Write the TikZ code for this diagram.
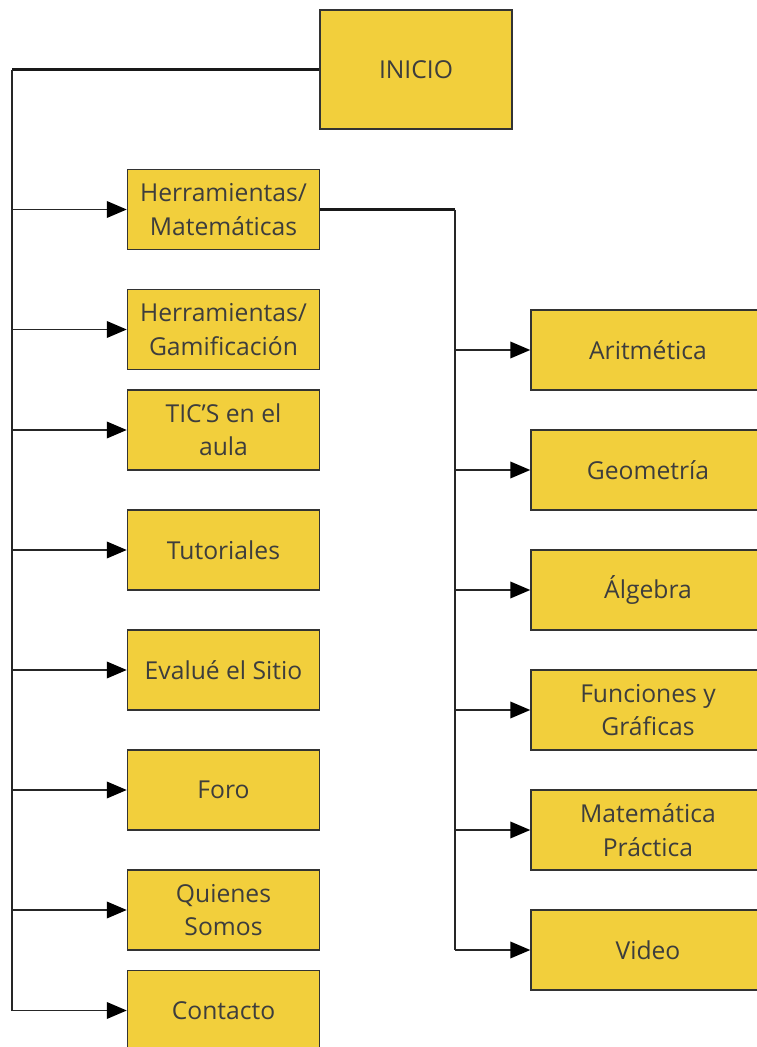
\documentclass[tikz,border=0pt]{standalone}
\usepackage{fontspec}
\setmainfont{Open Sans}
\usetikzlibrary{arrows.meta}

\definecolor{menuyellow}{HTML}{F2CF3C}
\definecolor{menutext}{HTML}{3D3D3D}

\begin{document}
\begin{tikzpicture}[x=0.75pt,y=-0.75pt]

\useasboundingbox (0,0) rectangle (757,1047);
\clip (0,0) rectangle (757,1047);

\tikzset{MenuBox/.style={shape=rectangle, draw=black!80, line width=1.1pt,
        fill=menuyellow, text=menutext, align=center, inner sep=0pt,
        font=\fontsize{18.5}{25}\selectfont,
        minimum width=144pt, minimum height=60pt}}
\tikzset{SubBox/.style={MenuBox, minimum width=175.5pt}}

\begin{scope}
    % Top node
    \node (inicio) at (416,69.5) [MenuBox, minimum height=89.25pt] {INICIO};

    % Left column - main menu
    \node (hmat) at (223.5,209.5) [MenuBox] {Herramientas/\\Matemáticas};
    \node (hgam) at (223.5,329.5) [MenuBox] {Herramientas/\\Gamificación};
    \node (tics) at (223.5,430) [MenuBox] {TIC’S en el\\aula};
    \node (tuto) at (223.5,550) [MenuBox] {Tutoriales};
    \node (eval) at (223.5,670) [MenuBox] {Evalué el Sitio};
    \node (foro) at (223.5,790) [MenuBox] {Foro};
    \node (quienes) at (223.5,910) [MenuBox] {Quienes\\Somos};
    \node (contacto) at (223.5,1010.5) [MenuBox] {Contacto};

    % Right column - math tools
    \node (arit) at (648,350) [SubBox] {Aritmética};
    \node (geom) at (648,470) [SubBox] {Geometría};
    \node (alg) at (648,590) [SubBox] {Álgebra};
    \node (func) at (648,710) [SubBox] {Funciones y\\Gráficas};
    \node (prac) at (648,830) [SubBox] {Matemática\\Práctica};
    \node (video) at (648,950) [SubBox] {Video};
\end{scope}

\tikzset{TopLine/.style={line width=2.2pt, black!90},
         TrunkLine/.style={line width=1.7pt, black!85},
         BranchLine/.style={line width=1.2pt, black!85,
            -{Triangle[length=15pt, width=12.5pt, black]}}}

\coordinate (trunk) at (12,69.5);
\coordinate (subtrunk) at (455,209.5);

\begin{scope}
    % INICIO to main menu
    \draw [TopLine] (inicio) -- (trunk);
    \draw [TrunkLine] (trunk) -- (trunk |- contacto);
    \foreach \n in {hmat,hgam,tics,tuto,eval,foro,quienes,contacto}
        \draw [BranchLine] (trunk |- \n) -- (\n);

    % Herramientas/Matematicas to sub menu
    \draw [TopLine] (hmat) -- (subtrunk);
    \draw [TrunkLine] (subtrunk) -- (subtrunk |- video);
    \foreach \n in {arit,geom,alg,func,prac,video}
        \draw [BranchLine] (subtrunk |- \n) -- (\n);
\end{scope}

\end{tikzpicture}
\end{document}
